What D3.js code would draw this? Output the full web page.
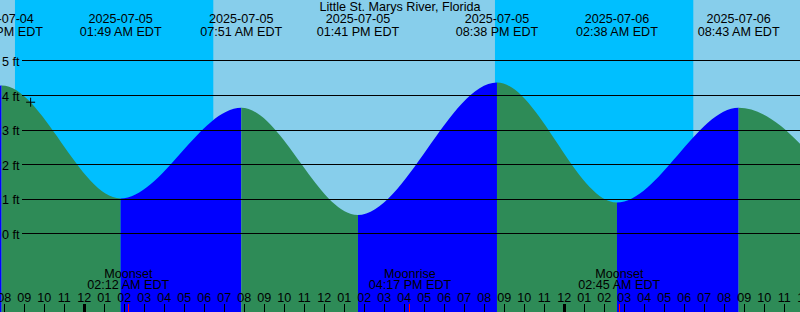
<!DOCTYPE html>
<html>
<head>
<meta charset="utf-8">
<script src="https://cdn.jsdelivr.net/npm/d3@7"></script>
<style>
  body { margin: 0; background: #fff; }
  svg { display: block; }
  text { font-family: "Liberation Sans", Arial, sans-serif; font-size: 12.6px; fill: black; }
</style>
</head>
<body>
<div id="chart"></div>
<script>
// ===== data (times are EDT) =====
var title = "Little St. Marys River, Florida"

// high / low tides, in order
var tideTimes = ["2025-07-04 13:50", "2025-07-04 19:52", "2025-07-05 01:49", "2025-07-05 07:51",
                 "2025-07-05 13:41", "2025-07-05 20:38", "2025-07-06 02:38", "2025-07-06 08:43",
                 "2025-07-06 14:50"]
var tideHeights = [0.5, 4.30, 1.04, 3.66, 0.56, 4.39, 0.92, 3.66, 0.35]

// night spans (sunset -> sunrise)
var sunsets  = ["2025-07-04 20:32", "2025-07-05 20:32"]
var sunrises = ["2025-07-05 06:27", "2025-07-06 06:27"]

var moonTimes  = ["2025-07-05 02:12", "2025-07-05 16:17", "2025-07-06 02:45"]
var moonEvents = ["Moonset", "Moonrise", "Moonset"]

var nowTime = "2025-07-04 21:19"
var nowHeight = 3.82

var footTicks = [0, 1, 2, 3, 4, 5]

var W = 800, H = 312
var parse = d3.utcParse("%Y-%m-%d %H:%M")
var fmtDate = d3.utcFormat("%Y-%m-%d")
var fmtTime = d3.utcFormat("%I:%M %p EDT")
var fmtHour = d3.utcFormat("%I")

var x = d3.scaleUtc()
    .domain([parse("2025-07-05 00:00"), parse("2025-07-06 00:00")])
    .range([84.3, 564.3])
var y = d3.scaleLinear()
    .domain([0, 5])
    .range([234.4, 61.4])

var tides = tideTimes.map(function(t, i){
    return {t: parse(t), h: tideHeights[i]}
})

var svg = d3.select("#chart")
    .append("svg")
    .attr("width", W)
    .attr("height", H)

// day sky
svg.append("rect")
    .attr("width", W)
    .attr("height", H)
    .attr("fill", "#87ceeb")

// night sky
svg.selectAll("rect.night")
    .data(sunsets)
    .enter()
    .append("rect")
    .attr("class", "night")
    .attr("x", function(d){ return x(parse(d)) })
    .attr("width", function(d, i){ return x(parse(sunrises[i])) - x(parse(d)) })
    .attr("y", 0)
    .attr("height", H)
    .attr("fill", "#00bfff")

// water: area under the tide curve, used as a clip
var area = d3.area()
    .x(function(d){ return x(d.t) })
    .y0(H)
    .y1(function(d){ return y(d.h) })
    .curve(d3.curveMonotoneX)

svg.append("clipPath")
    .attr("id", "water")
    .append("path")
    .attr("d", area(tides))

// flood (rising) is blue, ebb (falling) is green
svg.selectAll("rect.tide")
    .data(tides.slice(0, -1))
    .enter()
    .append("rect")
    .attr("class", "tide")
    .attr("clip-path", "url(#water)")
    .attr("x", function(d){ return x(d.t) })
    .attr("width", function(d, i){ return x(tides[i + 1].t) - x(d.t) })
    .attr("y", 0)
    .attr("height", H)
    .attr("fill", function(d, i){
        return tides[i + 1].h > d.h ? "#0000ff" : "#2e8b57"
    })

// height lines
svg.selectAll("line.grid")
    .data(footTicks)
    .enter()
    .append("line")
    .attr("x1", 22)
    .attr("x2", W)
    .attr("y1", function(d){ return Math.round(y(d)) - 0.5 })
    .attr("y2", function(d){ return Math.round(y(d)) - 0.5 })
    .attr("stroke", "black")
    .attr("stroke-width", 1)

svg.selectAll("text.ft")
    .data(footTicks)
    .enter()
    .append("text")
    .attr("x", 2)
    .attr("y", function(d){ return y(d) + 4.6 })
    .text(function(d){ return d + " ft" })

// title and tide labels
svg.append("text")
    .attr("x", W / 2)
    .attr("y", 11)
    .attr("text-anchor", "middle")
    .text(title)

var tideLabels = svg.selectAll("g.tlabel")
    .data(tides)
    .enter()
    .append("g")
    .attr("transform", function(d){ return "translate(" + x(d.t) + ",0)" })
tideLabels.append("text")
    .attr("y", 23.3)
    .attr("text-anchor", "middle")
    .text(function(d){ return fmtDate(d.t) })
tideLabels.append("text")
    .attr("y", 36.2)
    .attr("text-anchor", "middle")
    .text(function(d){ return fmtTime(d.t) })

// moon labels
var moon = svg.selectAll("g.moon")
    .data(moonTimes)
    .enter()
    .append("g")
    .attr("transform", function(d){ return "translate(" + x(parse(d)) + ",0)" })
moon.append("text")
    .attr("y", 278.3)
    .attr("text-anchor", "middle")
    .text(function(d, i){ return moonEvents[i] })
moon.append("text")
    .attr("y", 289.4)
    .attr("text-anchor", "middle")
    .text(function(d){ return fmtTime(parse(d)) })

// hour ticks and labels
var hours = d3.utcHour.range(parse("2025-07-04 19:00"), parse("2025-07-06 13:00"))

svg.selectAll("text.hour")
    .data(hours)
    .enter()
    .append("text")
    .attr("x", function(d){ return x(d) })
    .attr("y", 301.8)
    .attr("text-anchor", "middle")
    .text(function(d){ return fmtHour(d) })

svg.selectAll("rect.tick")
    .data(hours)
    .enter()
    .append("rect")
    .attr("x", function(d){
        return d.getUTCHours() === 0 ? Math.floor(x(d)) - 1 : Math.floor(x(d))
    })
    .attr("width", function(d){ return d.getUTCHours() === 0 ? 3 : 1 })
    .attr("y", 304)
    .attr("height", 8)
    .attr("fill", "black")

svg.selectAll("rect.mtick")
    .data(moonTimes)
    .enter()
    .append("rect")
    .attr("x", function(d){ return Math.floor(x(parse(d))) })
    .attr("width", 1)
    .attr("y", 304)
    .attr("height", 8)
    .attr("fill", "red")

// current time mark
var nx = x(parse(nowTime)), ny = y(nowHeight)
svg.append("path")
    .attr("d", "M" + (nx - 4.5) + "," + ny + "H" + (nx + 4.5) + "M" + nx + "," + (ny - 4.5) + "V" + (ny + 4.5))
    .attr("stroke", "black")
    .attr("stroke-width", 1)
</script>
</body>
</html>
